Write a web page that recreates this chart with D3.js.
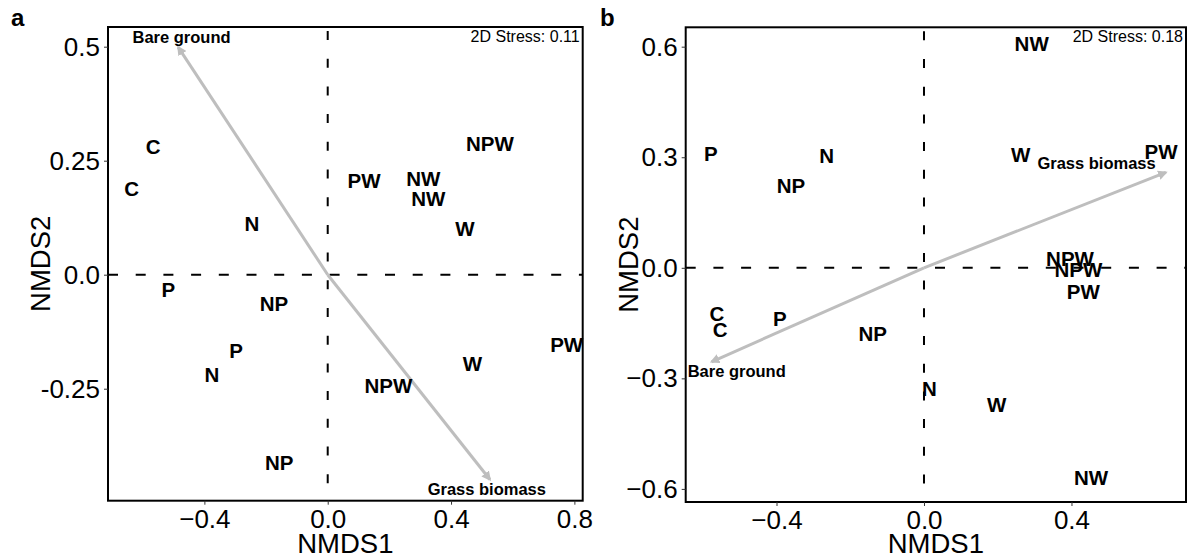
<!DOCTYPE html>
<html>
<head>
<meta charset="utf-8">
<script src="https://cdn.jsdelivr.net/npm/d3@7"></script>
<style>
  body { margin: 0; background: #fff; }
  text { font-family: "Liberation Sans", Arial, Helvetica, sans-serif; }
</style>
</head>
<body>
<svg id="chart" width="1190" height="560"></svg>
<script>
// ---- panel a: site scores ----
var siteA = ["C", "C", "N", "PW", "NW", "NW", "NPW", "W", "P", "NP", "P", "N", "NP", "PW", "W", "NPW"];
var xA = [-0.566, -0.636, -0.246, 0.118, 0.310, 0.326, 0.526, 0.445, -0.517, -0.174, -0.297, -0.376, -0.157, 0.775, 0.469, 0.197];
var yA = [0.281, 0.189, 0.111, 0.207, 0.211, 0.166, 0.287, 0.100, -0.032, -0.063, -0.167, -0.220, -0.412, -0.154, -0.194, -0.243];

// ---- panel b: site scores ----
var siteB = ["P", "N", "NP", "NW", "W", "PW", "NPW", "NPW", "PW", "C", "C", "P", "NP", "N", "W", "NW"];
var xB = [-0.578, -0.264, -0.361, 0.292, 0.262, 0.643, 0.396, 0.419, 0.432, -0.562, -0.553, -0.391, -0.139, 0.015, 0.197, 0.453];
var yB = [0.310, 0.304, 0.222, 0.609, 0.308, 0.315, 0.026, -0.004, -0.065, -0.124, -0.169, -0.137, -0.178, -0.327, -0.372, -0.568];

// ---- env fit vectors ----
var envA = ["Bare ground", "Grass biomass"];
var envAx = [-0.485, 0.526], envAy = [0.499, -0.449];
var envAlx = [-0.474, 0.516], envAly = [0.520, -0.471];
var envB = ["Grass biomass", "Bare ground"];
var envBx = [0.656, -0.576], envBy = [0.259, -0.255];
var envBlx = [0.468, -0.508], envBly = [0.285, -0.280];

// ---- axes ----
var xTicksA = [-0.4, 0.0, 0.4, 0.8];
var yTicksA = [-0.25, 0.0, 0.25, 0.5];
var yTickLabA = ["-0.25", "0.0", "0.25", "0.5"];
var xTicksB = [-0.4, 0.0, 0.4];
var yTicksB = [-0.6, -0.3, 0.0, 0.3, 0.6];
var xDomA = [-0.7126, 0.827], yDomA = [-0.4956, 0.5432];
var xDomB = [-0.6463, 0.7106], yDomB = [-0.6355, 0.6526];
var stress = ["2D Stress: 0.11", "2D Stress: 0.18"];

var svg = d3.select("#chart");
svg.append("rect").attr("width", 1190).attr("height", 560).attr("fill", "#fff");

svg.append("defs").append("marker")
    .attr("id", "head")
    .attr("viewBox", "0 0 10 10")
    .attr("refX", 8).attr("refY", 5)
    .attr("markerWidth", 3.2).attr("markerHeight", 3.2)
    .attr("orient", "auto")
  .append("path")
    .attr("d", "M0,0L10,5L0,10z")
    .attr("fill", "#bebebe");

function fmt1(d) { return d3.format(".1f")(d); }

function panel(o) {
  var x = d3.scaleLinear().domain(o.xDom).range([o.left, o.right]);
  var y = d3.scaleLinear().domain(o.yDom).range([o.bottom, o.top]);
  var g = svg.append("g");

  // reference lines
  g.append("line")
      .attr("x1", o.left).attr("x2", o.right)
      .attr("y1", y(0)).attr("y2", y(0))
      .attr("stroke", "#000").attr("stroke-width", 2)
      .attr("stroke-dasharray", "10,17.7");
  g.append("line")
      .attr("x1", x(0)).attr("x2", x(0))
      .attr("y1", o.top).attr("y2", o.bottom)
      .attr("stroke", "#000").attr("stroke-width", 2)
      .attr("stroke-dasharray", "9,18.7")
      .attr("stroke-dashoffset", -4);

  // vectors
  g.selectAll("line.vec").data(o.envX).enter().append("line")
      .attr("class", "vec")
      .attr("x1", x(0)).attr("y1", y(0))
      .attr("x2", function(d) { return x(d); })
      .attr("y2", function(d, i) { return y(o.envY[i]); })
      .attr("stroke", "#bebebe").attr("stroke-width", 3)
      .attr("marker-end", "url(#head)");
  g.selectAll("text.env").data(o.env).enter().append("text")
      .attr("class", "env")
      .attr("x", function(d, i) { return x(o.envLx[i]); })
      .attr("y", function(d, i) { return y(o.envLy[i]); })
      .attr("dy", "0.35em")
      .attr("text-anchor", "middle")
      .attr("font-size", 16.5).attr("font-weight", "bold")
      .text(function(d) { return d; });

  // site labels
  g.selectAll("text.site").data(o.sites).enter().append("text")
      .attr("class", "site")
      .attr("x", function(d, i) { return x(o.xs[i]); })
      .attr("y", function(d, i) { return y(o.ys[i]); })
      .attr("dy", "0.36em")
      .attr("text-anchor", "middle")
      .attr("font-size", 20.5).attr("font-weight", "bold")
      .text(function(d) { return d; });

  // border
  g.append("rect")
      .attr("x", o.left).attr("y", o.top)
      .attr("width", o.right - o.left).attr("height", o.bottom - o.top)
      .attr("fill", "none").attr("stroke", "#000").attr("stroke-width", 2);

  // axes
  var ax = g.append("g").attr("transform", "translate(0," + o.bottom + ")")
      .call(d3.axisBottom(x).tickValues(o.xTicks).tickFormat(fmt1).tickSize(4).tickPadding(5));
  var ay = g.append("g").attr("transform", "translate(" + o.left + ",0)")
      .call(d3.axisLeft(y).tickValues(o.yTicks).tickFormat(function(d, i) { return o.yLab[i]; }).tickSize(4).tickPadding(4));
  [ax, ay].forEach(function(a) {
    a.select(".domain").remove();
    a.selectAll(".tick line").attr("stroke", "#333").attr("stroke-width", 1);
    a.selectAll(".tick text").attr("fill", "#000").attr("font-size", 26)
        .attr("font-family", "Liberation Sans, Arial, sans-serif");
  });

  // titles
  g.append("text")
      .attr("x", (o.left + o.right) / 2).attr("y", 553)
      .attr("text-anchor", "middle").attr("font-size", 27.5)
      .text("NMDS1");
  g.append("text")
      .attr("transform", "translate(" + o.yTitleX + "," + (o.top + o.bottom) / 2 + ") rotate(-90)")
      .attr("text-anchor", "middle").attr("font-size", 27.5)
      .text("NMDS2");

  g.append("text")
      .attr("x", o.right - 3).attr("y", o.top + 15)
      .attr("text-anchor", "end").attr("font-size", 16)
      .text(o.stress);

  g.append("text")
      .attr("x", o.letterX).attr("y", 26)
      .attr("font-size", 24).attr("font-weight", "bold")
      .text(o.letter);
}

panel({
  left: 108, right: 582.7, top: 27, bottom: 500.7,
  xDom: xDomA, yDom: yDomA,
  xTicks: xTicksA, yTicks: yTicksA, yLab: yTickLabA,
  sites: siteA, xs: xA, ys: yA,
  env: envA, envX: envAx, envY: envAy, envLx: envAlx, envLy: envAly,
  stress: stress[0], letter: "a", letterX: 11, yTitleX: 50
});

panel({
  left: 685.7, right: 1186, top: 27.3, bottom: 502,
  xDom: xDomB, yDom: yDomB,
  xTicks: xTicksB, yTicks: yTicksB, yLab: yTicksB.map(fmt1),
  sites: siteB, xs: xB, ys: yB,
  env: envB, envX: envBx, envY: envBy, envLx: envBlx, envLy: envBly,
  stress: stress[1], letter: "b", letterX: 600, yTitleX: 638
});
</script>
</body>
</html>
